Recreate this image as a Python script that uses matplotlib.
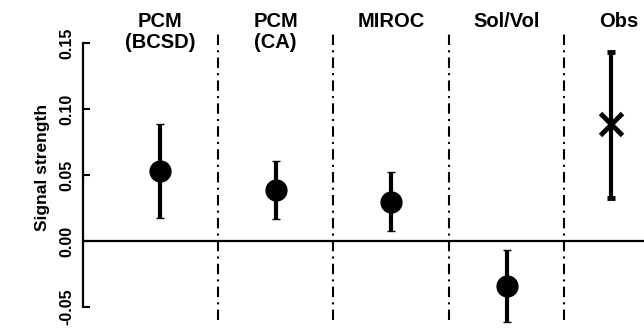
import matplotlib
matplotlib.use("Agg")
import matplotlib.pyplot as plt
import matplotlib.transforms as mtransforms
import numpy as np

plt.rcParams['font.family'] = ['Liberation Sans', 'DejaVu Sans']

categories = ["PCM\n(BCSD)", "PCM\n(CA)", "MIROC", "Sol/Vol", "Obs"]
center = [0.053, 0.039, 0.0295, -0.034, 0.089]
lower = [0.0174, 0.0167, 0.0076, -0.061, 0.0326]
upper = [0.0886, 0.061, 0.052, -0.0068, 0.143]
ytick_vals = [-0.05, 0.00, 0.05, 0.10, 0.15]
ytick_labels = ["-0.05", "0.00", "0.05", "0.10", "0.15"]
ylabel = "Signal strength"

# layout / style
xpos = [1, 2, 3, 4, 4.9]
label_x = [1, 2, 3, 4, 4.97]
sep_x = [1.5, 2.5, 3.5, 4.5]

fig = plt.figure(figsize=(6.44, 3.35), dpi=100)
ax = fig.add_axes([83 / 644, 0, 1 - 83 / 644, 1])
ax.set_xlim(0.333, 5.19)
ax.set_ylim(-0.0712, 0.1826)

for s in ['top', 'right', 'bottom']:
    ax.spines[s].set_visible(False)
ax.spines['left'].set_bounds(-0.05, 0.15)
ax.spines['left'].set_linewidth(1.6)
ax.set_xticks([])
ax.set_yticks(ytick_vals)
ax.set_yticklabels(ytick_labels, rotation=90, va='center', fontsize=11.5,
                   fontweight='bold')
ax.tick_params(axis='y', direction='in', length=5, width=1.5, pad=6)
ax.set_ylabel(ylabel, fontsize=12.5, fontweight='bold')
ax.yaxis.set_label_coords(-0.058, 0.5)

ax.axhline(0, color='black', lw=1.6, zorder=1)
for sx in sep_x:
    ax.plot([sx, sx], [-0.0598, 0.1576], color='black', lw=1.5,
            linestyle=(0, (5, 2.5, 1, 2.5)), zorder=1)

c = np.array(center)
lo = c - np.array(lower)
hi = np.array(upper) - c
for i in range(5):
    mk = 'x' if i == 4 else 'o'
    ax.errorbar(xpos[i], c[i], yerr=[[lo[i]], [hi[i]]], fmt=mk, color='black',
                ecolor='black', elinewidth=3, capsize=3, capthick=3,
                markersize=16 if i == 4 else 15, mew=3.5 if i == 4 else 1,
                zorder=3)

trans = mtransforms.blended_transform_factory(ax.transData, fig.transFigure)
for lx, lab in zip(label_x, categories):
    ax.text(lx, 1 - 12 / 335, lab, transform=trans, ha='center', va='top',
            fontsize=14.5, fontweight='bold', linespacing=1.15)

fig.savefig("out.png", dpi=100)
